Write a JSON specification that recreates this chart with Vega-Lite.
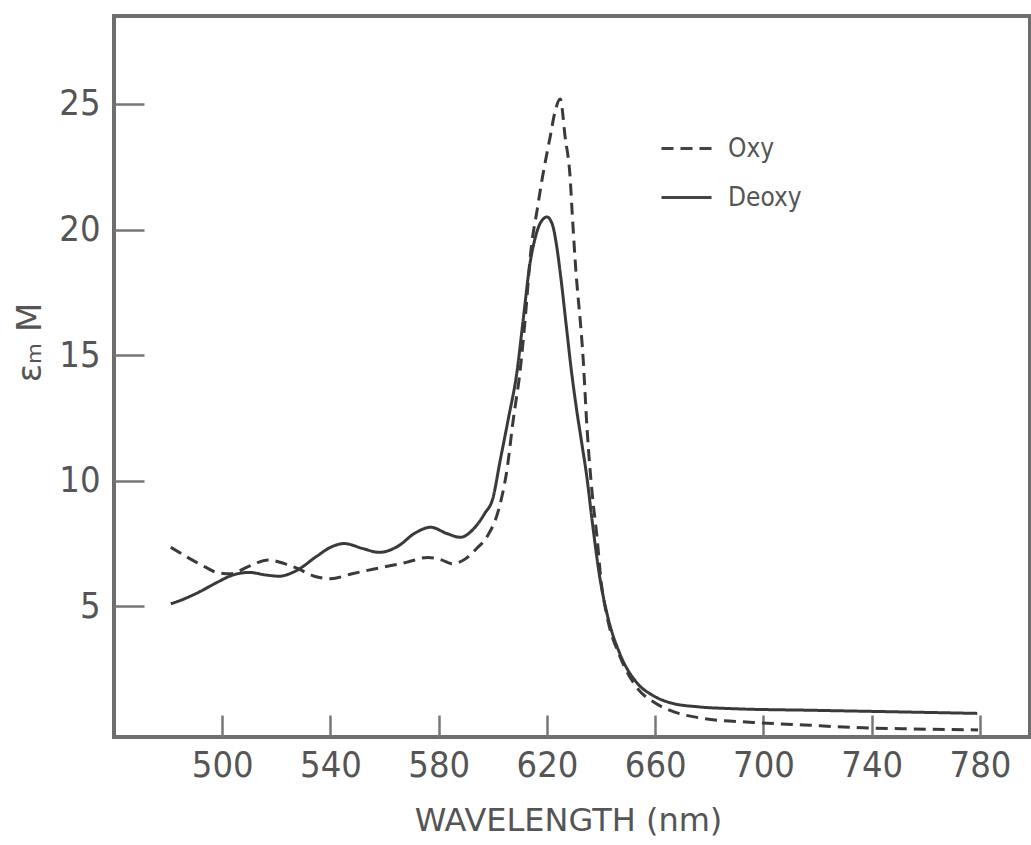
{
  "$schema": "https://vega.github.io/schema/vega-lite/v6.json",
  "autosize": "none",
  "width": 916,
  "height": 721,
  "padding": {"left": 114, "top": 16, "right": 1, "bottom": 108},
  "background": "white",
  "config": {
    "view": {"stroke": "#6e6e6e", "strokeWidth": 4},
    "axis": {
      "domain": false,
      "grid": false,
      "tickColor": "#777777",
      "tickWidth": 2.5,
      "labelColor": "#555555",
      "labelFont": "Liberation Sans Narrow, DejaVu Sans Condensed, sans-serif",
      "labelFontSize": 36,
      "titleColor": "#555555",
      "titleFont": "DejaVu Sans",
      "titleFontWeight": "normal"
    },
    "legend": {
      "labelFont": "DejaVu Sans Condensed, DejaVu Sans",
      "labelFontSize": 26,
      "labelColor": "#555555"
    }
  },
  "data": {
    "values": [
      {"wl": 481, "eps": 5.1, "form": "Deoxy"},
      {"wl": 486, "eps": 5.3, "form": "Deoxy"},
      {"wl": 492, "eps": 5.6, "form": "Deoxy"},
      {"wl": 498, "eps": 5.95, "form": "Deoxy"},
      {"wl": 504, "eps": 6.25, "form": "Deoxy"},
      {"wl": 510, "eps": 6.35, "form": "Deoxy"},
      {"wl": 516, "eps": 6.25, "form": "Deoxy"},
      {"wl": 521, "eps": 6.2, "form": "Deoxy"},
      {"wl": 527, "eps": 6.4, "form": "Deoxy"},
      {"wl": 535, "eps": 7.0, "form": "Deoxy"},
      {"wl": 540, "eps": 7.35, "form": "Deoxy"},
      {"wl": 545, "eps": 7.5, "form": "Deoxy"},
      {"wl": 552, "eps": 7.3, "form": "Deoxy"},
      {"wl": 558, "eps": 7.15, "form": "Deoxy"},
      {"wl": 565, "eps": 7.4, "form": "Deoxy"},
      {"wl": 571, "eps": 7.9, "form": "Deoxy"},
      {"wl": 577, "eps": 8.15, "form": "Deoxy"},
      {"wl": 583, "eps": 7.9, "form": "Deoxy"},
      {"wl": 588, "eps": 7.75, "form": "Deoxy"},
      {"wl": 593, "eps": 8.1, "form": "Deoxy"},
      {"wl": 597, "eps": 8.7, "form": "Deoxy"},
      {"wl": 600, "eps": 9.3, "form": "Deoxy"},
      {"wl": 602.7, "eps": 10.8, "form": "Deoxy"},
      {"wl": 605.6, "eps": 12.4, "form": "Deoxy"},
      {"wl": 609, "eps": 14.4, "form": "Deoxy"},
      {"wl": 611.2, "eps": 16.4, "form": "Deoxy"},
      {"wl": 613.8, "eps": 18.7, "form": "Deoxy"},
      {"wl": 615.5, "eps": 19.6, "form": "Deoxy"},
      {"wl": 617.5, "eps": 20.25, "form": "Deoxy"},
      {"wl": 620, "eps": 20.5, "form": "Deoxy"},
      {"wl": 622, "eps": 20.2, "form": "Deoxy"},
      {"wl": 623.5, "eps": 19.4, "form": "Deoxy"},
      {"wl": 625, "eps": 18.2, "form": "Deoxy"},
      {"wl": 627, "eps": 16.3, "form": "Deoxy"},
      {"wl": 629, "eps": 14.4, "form": "Deoxy"},
      {"wl": 631, "eps": 12.8, "form": "Deoxy"},
      {"wl": 633, "eps": 11.4, "form": "Deoxy"},
      {"wl": 634.8, "eps": 10.1, "form": "Deoxy"},
      {"wl": 636.7, "eps": 8.4, "form": "Deoxy"},
      {"wl": 639.6, "eps": 6.1, "form": "Deoxy"},
      {"wl": 642.2, "eps": 4.7, "form": "Deoxy"},
      {"wl": 647, "eps": 3.1, "form": "Deoxy"},
      {"wl": 653.3, "eps": 1.95, "form": "Deoxy"},
      {"wl": 659.2, "eps": 1.45, "form": "Deoxy"},
      {"wl": 666, "eps": 1.15, "form": "Deoxy"},
      {"wl": 676, "eps": 1.0, "form": "Deoxy"},
      {"wl": 688, "eps": 0.93, "form": "Deoxy"},
      {"wl": 720, "eps": 0.86, "form": "Deoxy"},
      {"wl": 750, "eps": 0.8, "form": "Deoxy"},
      {"wl": 779, "eps": 0.74, "form": "Deoxy"},
      {"wl": 481, "eps": 7.35, "form": "Oxy"},
      {"wl": 488, "eps": 6.9, "form": "Oxy"},
      {"wl": 494, "eps": 6.55, "form": "Oxy"},
      {"wl": 498, "eps": 6.35, "form": "Oxy"},
      {"wl": 503, "eps": 6.3, "form": "Oxy"},
      {"wl": 510, "eps": 6.6, "form": "Oxy"},
      {"wl": 517, "eps": 6.85, "form": "Oxy"},
      {"wl": 523, "eps": 6.7, "form": "Oxy"},
      {"wl": 528, "eps": 6.5, "form": "Oxy"},
      {"wl": 534, "eps": 6.2, "form": "Oxy"},
      {"wl": 540, "eps": 6.1, "form": "Oxy"},
      {"wl": 548, "eps": 6.3, "form": "Oxy"},
      {"wl": 559, "eps": 6.55, "form": "Oxy"},
      {"wl": 568, "eps": 6.75, "form": "Oxy"},
      {"wl": 576, "eps": 6.95, "form": "Oxy"},
      {"wl": 581, "eps": 6.85, "form": "Oxy"},
      {"wl": 585, "eps": 6.7, "form": "Oxy"},
      {"wl": 590, "eps": 6.9, "form": "Oxy"},
      {"wl": 594, "eps": 7.3, "form": "Oxy"},
      {"wl": 598, "eps": 7.8, "form": "Oxy"},
      {"wl": 602, "eps": 8.8, "form": "Oxy"},
      {"wl": 605.3, "eps": 10.5, "form": "Oxy"},
      {"wl": 607.5, "eps": 12.4, "form": "Oxy"},
      {"wl": 610.1, "eps": 14.4, "form": "Oxy"},
      {"wl": 612, "eps": 16.5, "form": "Oxy"},
      {"wl": 614, "eps": 19.1, "form": "Oxy"},
      {"wl": 616.4, "eps": 20.8, "form": "Oxy"},
      {"wl": 618.2, "eps": 22.0, "form": "Oxy"},
      {"wl": 621.2, "eps": 23.7, "form": "Oxy"},
      {"wl": 623, "eps": 24.7, "form": "Oxy"},
      {"wl": 624.9, "eps": 25.2, "form": "Oxy"},
      {"wl": 626.7, "eps": 23.7, "form": "Oxy"},
      {"wl": 628.6, "eps": 22.0, "form": "Oxy"},
      {"wl": 629.3, "eps": 20.7, "form": "Oxy"},
      {"wl": 630.4, "eps": 18.8, "form": "Oxy"},
      {"wl": 633.4, "eps": 14.8, "form": "Oxy"},
      {"wl": 634.8, "eps": 12.1, "form": "Oxy"},
      {"wl": 636.7, "eps": 9.5, "form": "Oxy"},
      {"wl": 638.5, "eps": 7.75, "form": "Oxy"},
      {"wl": 640, "eps": 6.0, "form": "Oxy"},
      {"wl": 642.2, "eps": 4.6, "form": "Oxy"},
      {"wl": 647, "eps": 3.0, "form": "Oxy"},
      {"wl": 653, "eps": 1.8, "form": "Oxy"},
      {"wl": 660, "eps": 1.15, "form": "Oxy"},
      {"wl": 665.5, "eps": 0.86, "form": "Oxy"},
      {"wl": 677.7, "eps": 0.54, "form": "Oxy"},
      {"wl": 696.2, "eps": 0.38, "form": "Oxy"},
      {"wl": 715, "eps": 0.28, "form": "Oxy"},
      {"wl": 733, "eps": 0.18, "form": "Oxy"},
      {"wl": 755, "eps": 0.12, "form": "Oxy"},
      {"wl": 779.3, "eps": 0.08, "form": "Oxy"}
    ]
  },
  "mark": {"type": "line", "color": "#3a3a3a", "strokeWidth": 3, "clip": true, "interpolate": "monotone"},
  "encoding": {
    "x": {
      "field": "wl",
      "type": "quantitative",
      "scale": {"domain": [460, 798.5], "nice": false, "zero": false},
      "axis": {
        "values": [500, 540, 580, 620, 660, 700, 740, 780],
        "tickSize": -22,
        "labelPadding": 33,
        "labelBaseline": "top",
        "title": "WAVELENGTH (nm)",
        "titleFontSize": 32,
        "titleX": 454,
        "titleY": 83,
        "titleAlign": "center",
        "titleBaseline": "middle"
      }
    },
    "y": {
      "field": "eps",
      "type": "quantitative",
      "scale": {"domain": [-0.2, 28.5], "nice": false, "zero": false},
      "axis": {
        "values": [5, 10, 15, 20, 25],
        "tickSize": -30,
        "labelPadding": 44,
        "title": "εₘ M",
        "titleFontSize": 34,
        "titleAngle": 270,
        "titleX": -84,
        "titleY": 326,
        "titleAlign": "center",
        "titleBaseline": "middle"
      }
    },
    "strokeDash": {
      "field": "form",
      "type": "nominal",
      "scale": {"domain": ["Oxy", "Deoxy"], "range": [[12, 7], [1, 0]]},
      "legend": {
        "title": null,
        "orient": "none",
        "legendX": 546,
        "legendY": 106,
        "symbolType": "stroke",
        "symbolSize": 2500,
        "symbolStrokeWidth": 3,
        "symbolStrokeColor": "#444444",
        "labelOffset": 15,
        "rowPadding": 9
      }
    }
  }
}
